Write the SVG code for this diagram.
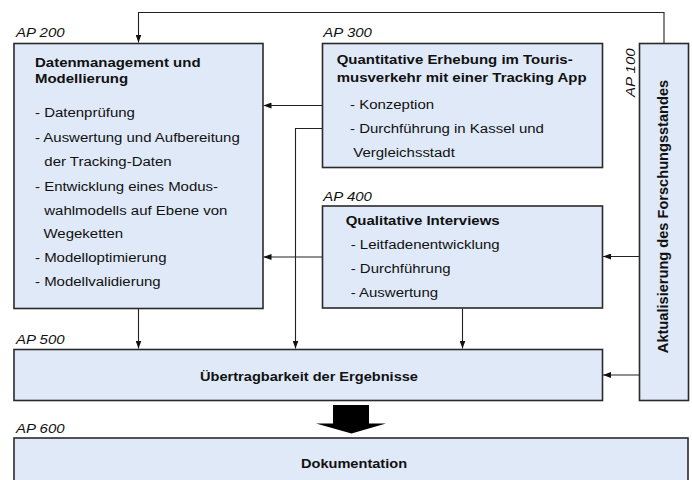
<svg xmlns="http://www.w3.org/2000/svg" width="692" height="480" viewBox="0 0 692 480">
  <style>
    .box { fill: #dfe9f7; stroke: #2a2a2a; stroke-width: 1.6; }
    .t { font-family: "Liberation Sans", Arial, sans-serif; font-size: 13.5px; fill: #111; }
    .b { font-weight: bold; }
    .ap { font-style: italic; }
    .mid { text-anchor: middle; }
    .con { fill: none; stroke: #222; stroke-width: 1.1; marker-end: url(#ah); }
  </style>
  <defs>
    <marker id="ah" markerWidth="8" markerHeight="6" refX="8" refY="3" orient="auto" markerUnits="userSpaceOnUse">
      <path d="M0,0 L8,3 L0,6 z" fill="#111"/>
    </marker>
  </defs>
  <rect width="692" height="480" fill="#fff"/>

  <g id="connectors">
    <path class="con" d="M664,43 V12.5 H138.5 V42.5"/>
    <path class="con" d="M322.5,105.5 H263.5"/>
    <path class="con" d="M322.5,128.5 H295.5 V348.5"/>
    <path class="con" d="M322.5,257 H263.5"/>
    <path class="con" d="M138.5,308.5 V348.5"/>
    <path class="con" d="M462.5,308.5 V348.5"/>
    <path class="con" d="M639,256.5 H603"/>
    <path class="con" d="M639,375 H603"/>
  </g>

  <g id="ap200">
    <rect class="box" x="14" y="43.5" width="249" height="265"/>
    <text class="t ap" transform="translate(16,36.7) scale(1.11,1)">AP 200</text>
    <text class="t b" transform="translate(35,67) scale(1.11,1)">Datenmanagement und</text>
    <text class="t b" transform="translate(35,83) scale(1.11,1)">Modellierung</text>
    <text class="t" transform="translate(35,117) scale(1.11,1)">- Datenprüfung</text>
    <text class="t" transform="translate(35,141.5) scale(1.11,1)">- Auswertung und Aufbereitung</text>
    <text class="t" transform="translate(44.3,165.5) scale(1.11,1)">der Tracking-Daten</text>
    <text class="t" transform="translate(35,190.5) scale(1.11,1)">- Entwicklung eines Modus-</text>
    <text class="t" transform="translate(44.3,214.5) scale(1.11,1)">wahlmodells auf Ebene von</text>
    <text class="t" transform="translate(43.5,238) scale(1.11,1)">Wegeketten</text>
    <text class="t" transform="translate(35,262) scale(1.11,1)">- Modelloptimierung</text>
    <text class="t" transform="translate(35,286) scale(1.11,1)">- Modellvalidierung</text>
  </g>

  <g id="ap300">
    <rect class="box" x="322.5" y="43.5" width="280" height="124"/>
    <text class="t ap" transform="translate(323.3,36.7) scale(1.11,1)">AP 300</text>
    <text class="t b" transform="translate(336.7,63.5) scale(1.11,1)">Quantitative Erhebung im Touris-</text>
    <text class="t b" transform="translate(336.7,81.7) scale(1.11,1)">musverkehr mit einer Tracking App</text>
    <text class="t" transform="translate(350,109) scale(1.11,1)">- Konzeption</text>
    <text class="t" transform="translate(350,133.3) scale(1.11,1)">- Durchführung in Kassel und</text>
    <text class="t" transform="translate(353.3,157) scale(1.11,1)">Vergleichsstadt</text>
  </g>

  <g id="ap400">
    <rect class="box" x="322.5" y="206" width="280" height="102"/>
    <text class="t ap" transform="translate(323.3,201) scale(1.11,1)">AP 400</text>
    <text class="t b" transform="translate(345.7,225) scale(1.11,1)">Qualitative Interviews</text>
    <text class="t" transform="translate(350.7,249.3) scale(1.11,1)">- Leitfadenentwicklung</text>
    <text class="t" transform="translate(350.7,273.3) scale(1.11,1)">- Durchführung</text>
    <text class="t" transform="translate(350.7,296.7) scale(1.11,1)">- Auswertung</text>
  </g>

  <g id="ap100">
    <rect class="box" x="639.5" y="43.5" width="49" height="357"/>
    <text class="t ap" transform="translate(635,97) rotate(-90) scale(1.11,1)">AP 100</text>
    <text class="t b mid" transform="translate(668,216.5) rotate(-90)" style="font-size:14.6px">Aktualisierung des Forschungsstandes</text>
  </g>

  <g id="ap500">
    <rect class="box" x="14" y="349.5" width="588.5" height="51"/>
    <text class="t ap" transform="translate(16,344) scale(1.11,1)">AP 500</text>
    <text class="t b mid" transform="translate(309,381) scale(1.08,1)">Übertragbarkeit der Ergebnisse</text>
  </g>

  <g id="bigarrow">
    <path d="M333,405 H369 V423.5 H386 L351.5,433.5 L316,423.5 H333 Z" fill="#000"/>
  </g>

  <g id="ap600">
    <rect class="box" x="14" y="438" width="674" height="50"/>
    <text class="t ap" transform="translate(16,432.7) scale(1.11,1)">AP 600</text>
    <text class="t b mid" transform="translate(354,468.3) scale(1.08,1)">Dokumentation</text>
  </g>
</svg>
